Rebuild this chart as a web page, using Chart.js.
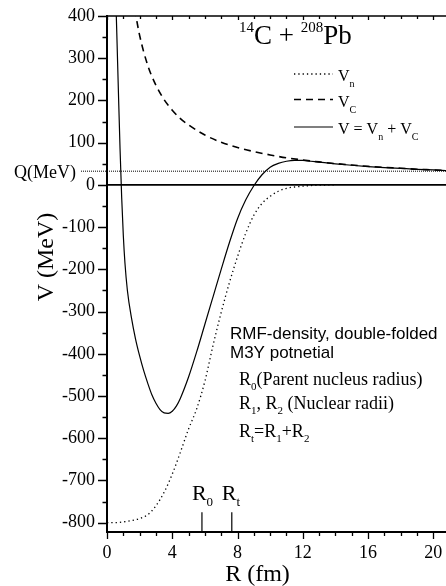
<!DOCTYPE html>
<html>
<head>
<meta charset="utf-8">
<script src="https://cdn.jsdelivr.net/npm/chart.js@4.4.1/dist/chart.umd.min.js"></script>
<style>
  html, body { margin: 0; padding: 0; background: #fff; }
  #wrap { width: 446px; height: 586px; position: relative; }
</style>
</head>
<body>
<div id="wrap"><canvas id="potChart"></canvas></div>
<script>
// --- DATA ---
// nuclear part Vn (dotted)
const rN = [0, 0.5, 1, 1.5, 2, 2.5, 3, 3.5, 4, 4.5, 5, 5.5, 6, 6.5, 7, 7.5, 8, 8.5, 9, 9.5, 10, 10.5, 11, 11.5, 12, 12.5, 13, 14];
const vN = [-800, -800, -798, -795, -790, -781, -760, -728, -685, -633, -578, -530, -465, -380, -302, -232, -170, -115, -72, -44, -27, -15, -8, -5, -3, -1.5, -0.5, 0];

// Coulomb part VC (dashed)
const rC = [1.7, 2, 2.5, 3, 3.5, 4, 4.5, 5, 6, 7, 8, 9, 10, 11, 12, 13, 14, 15, 16, 17, 18, 19, 20, 20.8];
const vC = [416, 354, 283, 236, 202, 177, 157, 142, 118, 101, 88.5, 79, 71, 64, 59, 54.5, 50.5, 47, 44, 41.5, 39.5, 37, 35.5, 34];

// total V = Vn + VC (solid)
const rT = [0.5, 0.6, 0.7, 0.8, 0.9, 1.0, 1.1, 1.25, 1.5, 1.75, 2, 2.25, 2.5, 2.75, 3, 3.25, 3.5, 3.75, 4, 4.25, 4.5, 5, 5.5, 6, 6.5, 7, 7.5, 8, 8.5, 9, 9.5, 10, 10.5, 11, 11.5, 12, 12.5, 13, 14, 15, 16, 17, 18, 19, 20, 20.8];
const vT = [495, 360, 220, 85, -30, -120, -185, -250, -315, -365, -405, -440, -470, -497, -517, -532, -540, -541, -536, -524, -505, -455, -395, -330, -265, -200, -137, -80, -36, -2, 24, 42, 51, 56, 58, 58, 56, 54, 50, 46.5, 43.5, 41, 39, 37, 35.5, 34];

// Q value and radius markers
const qValue = 32.5;
const markR = [5.82, 7.65];
const markNames = ["0", "t"];
const markTop = -775;

// axis ranges
const X_MIN = 0, X_MAX = 20.78;
const Y_MIN = -822, Y_MAX = 400;

const SERIF = "'Liberation Serif', 'Times New Roman', serif";
const SANS = "'Liberation Sans', Arial, sans-serif";

function pts(xs, ys) {
  return xs.map((x, i) => ({ x: x, y: ys[i] }));
}

// text with sub/superscripts, parts = [[text, size, dy], ...]
function rich(c, x, y, parts, family) {
  let cx = x;
  parts.forEach(p => {
    c.font = p[1] + "px " + family;
    c.fillText(p[0], cx, y + (p[2] || 0));
    cx += c.measureText(p[0]).width;
  });
}

// --- DECORATION: ticks, top border, Q line, legend, notes ---
const decor = {
  id: "decor",
  afterDraw(chart) {
    const c = chart.ctx;
    const xs = chart.scales.x, ys = chart.scales.y;
    const area = chart.chartArea;
    c.save();
    c.strokeStyle = "#000";
    c.fillStyle = "#000";

    // tick marks
    c.lineWidth = 1.3;
    c.beginPath();
    for (let v = 0; v <= 20; v++) {
      const px = Math.round(xs.getPixelForValue(v)) + 0.5;
      const len = v % 4 === 0 ? 7 : 4;
      c.moveTo(px, area.bottom);
      c.lineTo(px, area.bottom + len);
      c.moveTo(px, area.top);
      c.lineTo(px, area.top + (v % 4 === 0 ? 4 : 3));
    }
    for (let v = -800; v <= 400; v += 50) {
      const py = Math.round(ys.getPixelForValue(v)) + 0.5;
      const len = v % 100 === 0 ? 9 : 4.5;
      c.moveTo(area.left, py);
      c.lineTo(area.left - len, py);
    }
    c.stroke();

    // top frame line
    c.lineWidth = 1.5;
    c.beginPath();
    c.moveTo(area.left, area.top);
    c.lineTo(area.right, area.top);
    c.stroke();

    // Q line
    const qy = ys.getPixelForValue(qValue);
    c.lineWidth = 1;
    c.setLineDash([1, 1]);
    c.beginPath();
    c.moveTo(81, qy);
    c.lineTo(area.right, qy);
    c.stroke();
    c.setLineDash([]);
    c.textBaseline = "alphabetic";
    c.textAlign = "left";
    c.font = "18px " + SERIF;
    c.fillText("Q(MeV)", 14, qy + 7);

    // title
    rich(c, 239, 43.5, [["14", 15, -11.5], ["C + ", 27], ["208", 15, -11.5], ["Pb", 27]], SERIF);

    // legend
    const lx0 = 294, lx1 = 333;
    const leg = [
      { y: 74, dash: [1.3, 3], w: 1.3, parts: [["V", 16], ["n", 10, 6]] },
      { y: 99.5, dash: [7, 5], w: 1.6, parts: [["V", 16], ["C", 10, 6]] },
      { y: 127, dash: [], w: 1.2, parts: [["V = V", 16], ["n", 10, 6], [" + V", 16], ["C", 10, 6]] }
    ];
    leg.forEach(l => {
      c.lineWidth = l.w;
      c.setLineDash(l.dash);
      c.beginPath();
      c.moveTo(lx0, l.y);
      c.lineTo(lx1, l.y);
      c.stroke();
      c.setLineDash([]);
      rich(c, 338, l.y + 7, l.parts, SERIF);
    });

    // notes
    c.font = "17px " + SANS;
    c.fillText("RMF-density, double-folded", 230, 338.5);
    c.fillText("M3Y potnetial", 230, 357.5);
    rich(c, 239, 385, [["R", 18], ["0", 11, 5], ["(Parent nucleus radius)", 18]], SERIF);
    rich(c, 239, 409, [["R", 18], ["1", 11, 5], [", R", 18], ["2", 11, 5], [" (Nuclear radii)", 18]], SERIF);
    rich(c, 239, 437, [["R", 18], ["t", 11, 5], ["=R", 18], ["1", 11, 5], ["+R", 18], ["2", 11, 5]], SERIF);

    // marker labels
    markR.forEach((r, i) => {
      const px = xs.getPixelForValue(r);
      rich(c, px - 10, 499.5, [["R", 22], [markNames[i], 13, 6]], SERIF);
    });

    // axis titles
    c.font = "24px " + SERIF;
    c.textAlign = "center";
    c.fillText("R (fm)", 257.5, 581);
    c.translate(53, 257);
    c.rotate(-Math.PI / 2);
    c.fillText("V (MeV)", 0, 0);
    c.restore();
  }
};

Chart.defaults.font.family = SERIF;
Chart.defaults.color = "#000";

const lineBase = { borderColor: "#000", pointRadius: 0, fill: false, cubicInterpolationMode: "monotone" };

const ctx = document.getElementById("potChart").getContext("2d");
const potChart = new Chart(ctx, {
  type: "line",
  data: {
    datasets: [
      Object.assign({ label: "zero", data: [{ x: X_MIN, y: 0 }, { x: X_MAX, y: 0 }], borderWidth: 1.8 }, lineBase),
      Object.assign({ label: "Vn", data: pts(rN, vN), borderWidth: 1.3, borderDash: [1.3, 3] }, lineBase),
      Object.assign({ label: "VC", data: pts(rC, vC), borderWidth: 1.6, borderDash: [7, 5] }, lineBase),
      Object.assign({ label: "V", data: pts(rT, vT), borderWidth: 1.2 }, lineBase),
      Object.assign({ label: "R0", data: [{ x: markR[0], y: markTop }, { x: markR[0], y: Y_MIN }], borderWidth: 1.2 }, lineBase),
      Object.assign({ label: "Rt", data: [{ x: markR[1], y: markTop }, { x: markR[1], y: Y_MIN }], borderWidth: 1.2 }, lineBase)
    ]
  },
  options: {
    responsive: true,
    maintainAspectRatio: false,
    animation: false,
    layout: { padding: { top: 16, right: 0, left: 0, bottom: 0 } },
    plugins: { legend: { display: false }, tooltip: { enabled: false } },
    scales: {
      x: {
        type: "linear",
        min: X_MIN,
        max: X_MAX,
        grid: { display: false, drawTicks: false },
        border: { color: "#000", width: 2 },
        ticks: {
          stepSize: 1,
          includeBounds: false,
          autoSkip: false,
          maxRotation: 0,
          padding: 10,
          font: { size: 18 },
          callback: v => (v % 4 === 0 ? v : "")
        },
        afterFit: s => { s.height = 54; s.paddingRight = 0; s.paddingLeft = 0; }
      },
      y: {
        type: "linear",
        min: Y_MIN,
        max: Y_MAX,
        grid: { display: false, drawTicks: false },
        border: { color: "#000", width: 2 },
        ticks: {
          stepSize: 50,
          includeBounds: false,
          autoSkip: false,
          padding: 12,
          font: { size: 18 },
          callback: v => (v % 100 === 0 ? v : "")
        },
        afterFit: s => { s.width = 107; s.paddingTop = 0; s.paddingBottom = 0; }
      }
    }
  },
  plugins: [decor]
});
</script>
</body>
</html>
